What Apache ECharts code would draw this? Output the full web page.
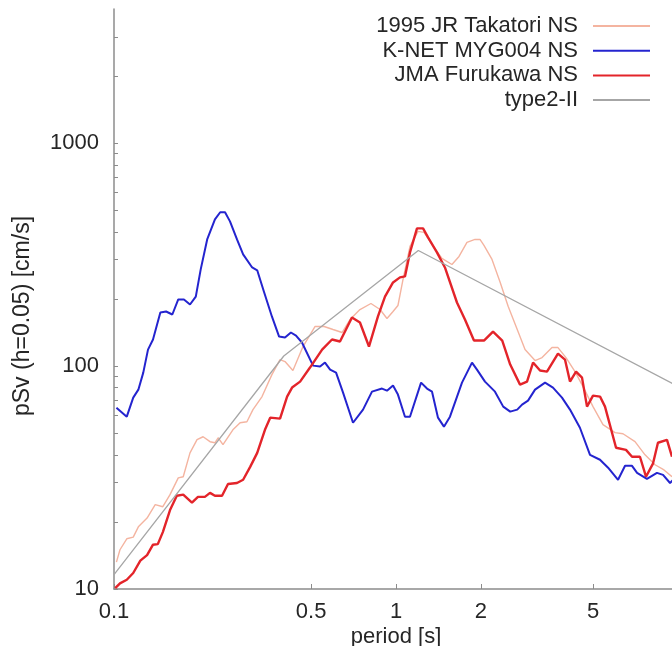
<!DOCTYPE html>
<html><head><meta charset="utf-8">
<script src="https://cdn.jsdelivr.net/npm/echarts@6/dist/echarts.min.js"></script>
<style>html,body{margin:0;padding:0;background:#fff}#c{width:672px;height:646px}</style>
</head><body><div id="c"></div>
<script>
// ---- data (period [s], pSv [cm/s]) ----
const takatoriPeriods = [0.102,0.105,0.111,0.117,0.122,0.131,0.140,0.149,0.158,0.169,0.176,0.186,0.197,0.207,0.219,0.228,0.234,0.2435,0.264,0.280,0.296,0.311,0.335,0.363,0.388,0.404,0.431,0.468,0.516,0.556,0.598,0.644,0.687,0.745,0.815,0.878,0.929,0.976,1.016,1.059,1.121,1.197,1.257,1.342,1.455,1.579,1.673,1.785,1.906,1.985,2.051,2.190,2.342,2.5,2.691,2.868,3.112,3.296,3.574,3.753,4.007,4.313,4.604,4.996,5.42,5.98,6.38,7.04,7.64,8.29,8.92,9.52];
const takatoriValues = [13.2,15.0,16.8,17.1,19.0,20.8,23.9,23.4,26.5,31.5,31.9,40.8,46.8,48.2,45.8,45.3,47.7,44.4,51.8,55.7,56.3,63.8,73.0,91.6,107.0,104.8,95.5,122.4,150.5,150.5,145.9,141.5,161.8,179.4,190.9,179.4,163.5,175.8,187.0,244.9,344.3,402.1,397.9,351.5,304.1,285.7,310.4,359.0,370,370,347.8,300.9,237.4,185.1,145.9,118.6,105.9,109.2,121.1,121.1,109.2,94.5,80.9,65.8,54.6,50.3,49.7,45.8,40,36.1,34.2,31.9];

const knetPeriods = [0.102,0.111,0.117,0.122,0.127,0.132,0.1375,0.146,0.153,0.161,0.169,0.177,0.186,0.195,0.203,0.214,0.228,0.238,0.2476,0.2578,0.273,0.287,0.309,0.322,0.340,0.363,0.385,0.404,0.424,0.442,0.464,0.508,0.538,0.560,0.584,0.613,0.649,0.704,0.764,0.822,0.892,0.929,0.976,1.016,1.076,1.121,1.227,1.288,1.342,1.409,1.479,1.554,1.714,1.860,1.937,2.068,2.244,2.400,2.541,2.691,2.799,2.939,3.112,3.377,3.603,3.878,4.140,4.49,4.875,5.29,5.65,6.13,6.49,6.87,7.16,7.76,8.42,8.85,9.37,9.76];
const knetValues = [65.1,59.3,72.2,78.4,93.5,118.6,131.6,174,175.8,170.4,199,199,189,205,271.6,370,455,490,490,446,370,317,277,269,216,167,135.7,134.3,141.5,137.1,127.6,100.5,99.5,103.7,96.4,93.5,76.0,55.7,63.8,76.8,79.3,77.6,81.8,74.5,59.3,59.3,84.3,79.3,76.8,58.7,53.5,59.3,84.3,103.7,96.4,85.2,76.8,65.8,62.5,63.8,67.2,70,78.4,84.3,80.1,72.2,63.8,52.9,40,38.0,35.0,30.9,35.7,35.7,33.2,31.2,33.2,32.5,29.9,31.5];

const jmaPeriods = [0.101,0.105,0.111,0.117,0.124,0.131,0.1375,0.143,0.149,0.158,0.167,0.176,0.189,0.1985,0.210,0.219,0.228,0.2416,0.2537,0.273,0.287,0.304,0.322,0.343,0.358,0.388,0.411,0.428,0.457,0.4955,0.547,0.593,0.633,0.698,0.745,0.802,0.863,0.914,0.976,1.033,1.076,1.121,1.187,1.247,1.299,1.397,1.491,1.645,1.756,1.890,2.051,2.208,2.381,2.541,2.753,2.915,3.062,3.242,3.431,3.753,3.974,4.140,4.349,4.567,4.757,4.996,5.29,5.51,6.03,6.54,6.87,7.33,7.70,8.15,8.49,9.14,9.52];
const jmaValues = [10.1,10.6,11.0,11.8,13.4,14.2,15.8,15.9,18.0,22.6,26.2,26.5,24.4,25.9,25.9,27.0,26.2,26.2,29.6,29.9,30.9,35.3,40.8,51.8,58.7,58.1,73.0,80.1,85.2,98.5,118.6,131.6,128.9,165.2,156.9,122.4,167,205,237.4,250,252.6,323.6,414.8,414.8,377.9,323.6,277,192.9,161.8,130.2,130.2,142.9,130.2,101.6,82.6,85.2,103.7,95.5,94.5,113.8,107.0,85.2,94.5,88.8,65.8,73.7,73.0,65.8,43.0,42.1,39.2,39.2,31.9,36.5,45.3,46.7,39.2];

const type2Periods = [0.1, 0.4, 1.2, 10];
const type2Values = [11.6, 111, 330, 81];

const seriesNames = ['1995 JR Takatori NS', 'K-NET MYG004 NS', 'JMA Furukawa NS', 'type2-II'];
const seriesColors = ['#f4b4a0', '#2424cf', '#e3242a', '#a6a6a6'];
const xLabelValues = [0.1, 0.5, 1, 2, 5];
const xTickValues = [0.1, 0.5, 1, 2, 5, 10];
const yLabelValues = [10, 100, 1000];
const yTickValues = [10,20,30,40,50,60,70,80,90,100,200,300,400,500,600,700,800,900,1000,2000,3000];

// ---- chart ----
function zip(p, v) { const n = Math.min(p.length, v.length); const out = []; for (let i = 0; i < n; i++) out.push([p[i], v[i]]); return out; }
const font = '"Liberation Sans", Arial, sans-serif';
const txt = '#262626';
const axisCol = '#8c8c8c';
const fs = 22;
const chart = echarts.init(document.getElementById('c'), null, {renderer: 'canvas'});
chart.setOption({
  animation: false,
  backgroundColor: '#ffffff',
  grid: {left: 114, top: 9, right: -6, bottom: 57, containLabel: false, outerBoundsMode: 'none'},
  legend: {
    orient: 'vertical', right: 17, top: 9, align: 'right', padding: 5,
    itemWidth: 57, itemHeight: 2, itemGap: 0.7, icon: 'rect',
    textStyle: {fontSize: fs, color: txt, fontFamily: font, lineHeight: 24, padding: [0, 10, 0, 0]},
    data: seriesNames.map((n, i) => ({name: n, itemStyle: {color: seriesColors[i]}}))
  },
  xAxis: {
    type: 'log', logBase: 10, min: 0.1, max: 10,
    name: 'period [s]', nameLocation: 'middle', nameGap: 37, nameMoveOverlap: false,
    nameTextStyle: {fontSize: fs, color: txt, fontFamily: font},
    axisLine: {lineStyle: {color: axisCol, width: 1.5}},
    axisTick: {inside: true, length: 5, customValues: xTickValues, lineStyle: {color: axisCol}},
    axisLabel: {customValues: xLabelValues, margin: 12, fontSize: fs, color: txt, fontFamily: font,
      formatter: v => String(+Number(v).toPrecision(3))},
    splitLine: {show: false}, minorTick: {show: false}, minorSplitLine: {show: false}
  },
  yAxis: {
    type: 'log', logBase: 10, min: 10, max: 4000,
    name: 'pSv (h=0.05) [cm/s]', nameLocation: 'middle', nameGap: 80, nameMoveOverlap: false,
    nameTextStyle: {fontSize: 23, color: txt, fontFamily: font, padding: [0, 34, 0, 0]},
    axisLine: {lineStyle: {color: axisCol, width: 1.5}},
    axisTick: {inside: true, length: 4, customValues: yTickValues, lineStyle: {color: axisCol}},
    axisLabel: {customValues: yLabelValues, margin: 15, fontSize: fs, color: txt, fontFamily: font,
      formatter: v => String(Math.round(v))},
    splitLine: {show: false}, minorTick: {show: false}, minorSplitLine: {show: false}
  },
  series: [
    {name: seriesNames[0], type: 'line', symbol: 'none', data: zip(takatoriPeriods, takatoriValues),
     lineStyle: {color: seriesColors[0], width: 1.4}, itemStyle: {color: seriesColors[0]}},
    {name: seriesNames[1], type: 'line', symbol: 'none', data: zip(knetPeriods, knetValues),
     lineStyle: {color: seriesColors[1], width: 2}, itemStyle: {color: seriesColors[1]}},
    {name: seriesNames[2], type: 'line', symbol: 'none', data: zip(jmaPeriods, jmaValues),
     lineStyle: {color: seriesColors[2], width: 2.4}, itemStyle: {color: seriesColors[2]}},
    {name: seriesNames[3], type: 'line', symbol: 'none', data: zip(type2Periods, type2Values),
     lineStyle: {color: seriesColors[3], width: 1.3}, itemStyle: {color: seriesColors[3]}}
  ]
});
</script></body></html>
